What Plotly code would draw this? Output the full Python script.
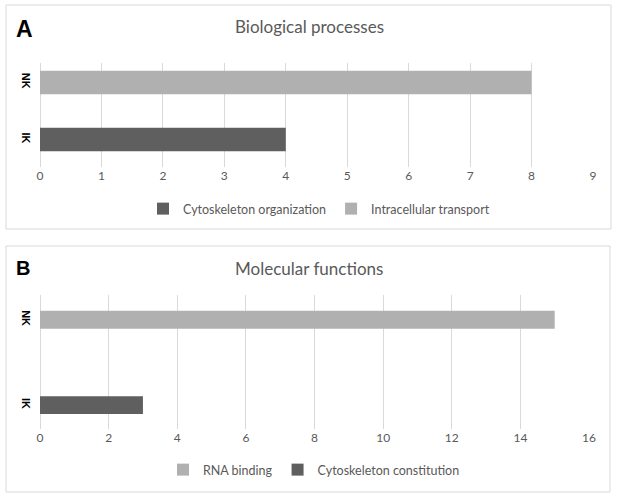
import plotly.graph_objects as go

# Panel A data
categories = ["IK", "NK"]
bp_series = ["Cytoskeleton organization", "Intracellular transport"]
bp_category = ["IK", "NK"]
bp_values = [4, 8]
# Panel B data
mf_series = ["RNA binding", "Cytoskeleton constitution"]
mf_category = ["NK", "IK"]
mf_values = [15, 3]

DARK = "#5f5f5f"
LIGHT = "#b0b0b0"
bp_colors = [DARK, LIGHT]
mf_colors = [LIGHT, DARK]

W, H = 618, 501
FONT = "Lato"

def px_x(x):
    return x / W

def px_y(y):
    return 1 - y / H

fig = go.Figure()

for name, cat, val, col in zip(bp_series, bp_category, bp_values, bp_colors):
    fig.add_trace(go.Bar(x=[val], y=[cat], name=name, orientation="h",
                         marker=dict(color=col, line=dict(width=0)), width=0.41,
                         xaxis="x", yaxis="y", legend="legend"))
for name, cat, val, col in zip(mf_series, mf_category, mf_values, mf_colors):
    fig.add_trace(go.Bar(x=[val], y=[cat], name=name, orientation="h",
                         marker=dict(color=col, line=dict(width=0)), width=0.21,
                         xaxis="x2", yaxis="y2", legend="legend2"))

xcommon = dict(showgrid=True, gridcolor="#d9d9d9", gridwidth=1, zeroline=True,
               zerolinecolor="#d9d9d9", zerolinewidth=1, showline=False, ticks="",
               tickfont=dict(family=FONT, size=12, color="#595959"), fixedrange=True)
ycommon = dict(showgrid=False, zeroline=False, showline=False, ticks="",
               categoryorder="array", categoryarray=categories, tickangle=90,
               tickfont=dict(family="Liberation Sans", size=11, color="#000000", weight="bold"),
               ticklabelstandoff=6, fixedrange=True)

fig.update_layout(
    template="none",
    width=W, height=H,
    margin=dict(l=0, r=0, t=0, b=0),
    paper_bgcolor="white", plot_bgcolor="white",
    barmode="overlay",
    showlegend=True,
    hovermode=False,
    xaxis=dict(domain=[px_x(40), px_x(593)], range=[0, 9], dtick=1, anchor="y", **xcommon),
    yaxis=dict(domain=[px_y(167), px_y(63)], range=[-0.48, 1.34], anchor="x", **ycommon),
    xaxis2=dict(domain=[px_x(40), px_x(589)], range=[0, 16], dtick=2, anchor="y2", **xcommon),
    yaxis2=dict(domain=[px_y(429), px_y(295)], range=[-0.28, 1.29], anchor="x2", **ycommon),
    legend=dict(orientation="h", x=px_x(319), xanchor="center", y=px_y(209), yanchor="middle",
                font=dict(family=FONT, size=12.5, color="#595959"), bgcolor="rgba(0,0,0,0)",
                traceorder="normal", itemwidth=30),
    legend2=dict(orientation="h", x=px_x(314), xanchor="center", y=px_y(470), yanchor="middle",
                 font=dict(family=FONT, size=12.5, color="#595959"), bgcolor="rgba(0,0,0,0)",
                 traceorder="normal", itemwidth=30),
    shapes=[
        dict(type="rect", xref="paper", yref="paper", x0=px_x(6), x1=px_x(611),
             y0=px_y(229), y1=px_y(5), line=dict(color="#d9d9d9", width=1)),
        dict(type="rect", xref="paper", yref="paper", x0=px_x(6), x1=px_x(610),
             y0=px_y(492), y1=px_y(246), line=dict(color="#d9d9d9", width=1)),
    ],
    annotations=[
        dict(text="Biological processes", xref="paper", yref="paper", x=px_x(309), y=px_y(27),
             showarrow=False, xanchor="center", yanchor="middle",
             font=dict(family=FONT, size=17, color="#595959")),
        dict(text="Molecular functions", xref="paper", yref="paper", x=px_x(309), y=px_y(268),
             showarrow=False, xanchor="center", yanchor="middle",
             font=dict(family=FONT, size=17, color="#595959")),
        dict(text="<b>A</b>", xref="paper", yref="paper", x=px_x(14), y=px_y(29),
             showarrow=False, xanchor="left", yanchor="middle",
             font=dict(family="Liberation Sans", size=23, color="#000000")),
        dict(text="<b>B</b>", xref="paper", yref="paper", x=px_x(14), y=px_y(268),
             showarrow=False, xanchor="left", yanchor="middle",
             font=dict(family="Liberation Sans", size=20, color="#000000")),
    ],
)

fig.write_html("out.html", config={"displayModeBar": False, "staticPlot": True},
               post_script="document.body.style.margin='0';")
